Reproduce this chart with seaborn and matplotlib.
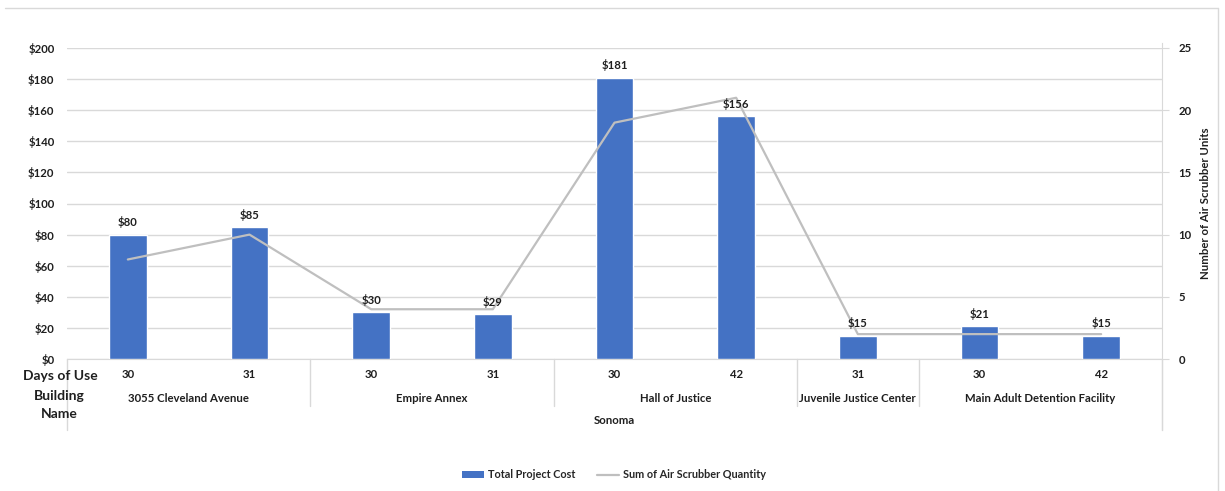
import matplotlib
matplotlib.use('Agg')
import matplotlib.pyplot as plt
from matplotlib.lines import Line2D
from matplotlib.patches import Patch
import matplotlib.transforms as mtransforms
import seaborn as sns
import pandas as pd
import numpy as np

# data
days_of_use = ['30', '31', '30', '31', '30', '42', '31', '30', '42']
building_names = ['3055 Cleveland Avenue', '3055 Cleveland Avenue', 'Empire Annex', 'Empire Annex',
                  'Hall of Justice', 'Hall of Justice', 'Juvenile Justice Center',
                  'Main Adult Detention Facility', 'Main Adult Detention Facility']
county = 'Sonoma'
total_cost = [80, 85, 30, 29, 181, 156, 15, 21, 15]
scrubber_qty = [8, 10, 4, 4, 19, 21, 2, 2, 2]

BAR_COLOR = '#4472C4'
LINE_COLOR = '#BFBFBF'
GRID_COLOR = '#D9D9D9'
TEXT_COLOR = '#1f1f1f'
FS = 8.2

sns.set_style('white')
plt.rcParams['font.family'] = ['Lato', 'DejaVu Sans']

df = pd.DataFrame({'pos': np.arange(len(total_cost)), 'days': days_of_use,
                   'building': building_names, 'cost': total_cost, 'qty': scrubber_qty})

fig = plt.figure(figsize=(12.25, 4.91), dpi=100)
ax = fig.add_axes([67/1225, 1-359/491, (1162-67)/1225, (359-48)/491])

sns.barplot(data=df, x='pos', y='cost', color=BAR_COLOR, width=0.31, saturation=1, ax=ax, zorder=3)
ax.set_ylim(0, 200)
ax.set_xlim(-0.5, len(df)-0.5)
ax.set_yticks(np.arange(0, 201, 20))
ax.set_yticklabels([f'${v}' for v in range(0, 201, 20)], fontsize=FS, fontweight='bold', color=TEXT_COLOR)
ax.yaxis.grid(True, color=GRID_COLOR, linewidth=1, zorder=0)
ax.set_axisbelow(True)
ax.tick_params(axis='y', length=0, pad=9)
ax.tick_params(axis='x', length=0)
ax.set_xticks([])
ax.set_xlabel('')
ax.set_ylabel('')
for s in ['top', 'left', 'right']:
    ax.spines[s].set_visible(False)
ax.spines['bottom'].set_color(GRID_COLOR)

# secondary axis with line
ax2 = ax.twinx()
sns.lineplot(data=df, x='pos', y='qty', color=LINE_COLOR, linewidth=1.6, ax=ax2, zorder=4)
ax2.set_ylim(0, 25)
ax2.set_yticks(np.arange(0, 26, 5))
ax2.set_yticklabels([str(v) for v in range(0, 26, 5)], fontsize=FS, fontweight='bold', color=TEXT_COLOR)
ax2.tick_params(axis='y', length=5, color=GRID_COLOR, pad=7)
ax2.set_ylabel('Number of Air Scrubber Units', fontsize=FS, fontweight='bold', color=TEXT_COLOR, labelpad=6)
ax2.set_xlabel('')
for s in ['top', 'left', 'bottom']:
    ax2.spines[s].set_visible(False)
ax2.spines['right'].set_color(GRID_COLOR)
ax2.spines['right'].set_bounds(-71 / 311 * 25, 25 + 5 / 311 * 25)
ax2.set_xlim(-0.5, len(df)-0.5)

# bar value labels (on top of the line)
for p, v in zip(df['pos'], df['cost']):
    ax2.text(p, v + 4, f'${v}', transform=ax.transData, ha='center', va='bottom', fontsize=FS,
             fontweight='bold', color=TEXT_COLOR, zorder=6)

# hierarchical category axis
trans = mtransforms.blended_transform_factory(ax.transData, ax.transAxes)
px = 1 / (359-48)
for p, d in zip(df['pos'], df['days']):
    ax.text(p, -16*px, d, transform=trans, ha='center', va='center', fontsize=FS, fontweight='bold', color=TEXT_COLOR)

groups = []
for b in building_names:
    if not groups or groups[-1][0] != b:
        groups.append([b, 0])
    groups[-1][1] += 1
start = 0
for name, n in groups:
    center = start + (n - 1) / 2
    ax.text(center, -39*px, name, transform=trans, ha='center', va='center', fontsize=FS, fontweight='bold', color=TEXT_COLOR)
    start += n
    if start < len(df):
        ax.add_line(Line2D([start-0.5, start-0.5], [0, -47*px], transform=trans, color=GRID_COLOR, lw=1, clip_on=False))
for xe in [-0.5, len(df)-0.5]:
    ax.add_line(Line2D([xe, xe], [0, -71*px], transform=trans, color=GRID_COLOR, lw=1, clip_on=False))
ax.text((len(df)-1)/2, -62*px, county, transform=trans, ha='center', va='center', fontsize=FS, fontweight='bold', color=TEXT_COLOR)

# row titles
fig.text(60/1225, 1-376/491, 'Days of Use', ha='center', va='center', fontsize=10, fontweight='bold', color=TEXT_COLOR)
fig.text(59/1225, 1-396/491, 'Building', ha='center', va='center', fontsize=10, fontweight='bold', color=TEXT_COLOR)
fig.text(59/1225, 1-414/491, 'Name', ha='center', va='center', fontsize=10, fontweight='bold', color=TEXT_COLOR)

# legend
handles = [Patch(facecolor=BAR_COLOR, edgecolor='none'), Line2D([0], [0], color=LINE_COLOR, lw=1.6)]
fig.legend(handles, ['Total Project Cost', 'Sum of Air Scrubber Quantity'], loc='center',
           bbox_to_anchor=(614/1225, 1-475/491), ncol=2, frameon=False,
           prop={'size': 7.8, 'weight': 'bold'}, handlelength=2.0, handleheight=0.6,
           columnspacing=2.0, handletextpad=0.4)

# outer chart border
fig.add_artist(Line2D([5/1225, 1218/1225], [1-8/491, 1-8/491], transform=fig.transFigure, color=GRID_COLOR, lw=1))
fig.add_artist(Line2D([1218/1225, 1218/1225], [1-8/491, 0], transform=fig.transFigure, color=GRID_COLOR, lw=1))

fig.savefig('out.png', dpi=100)
plt.close(fig)
